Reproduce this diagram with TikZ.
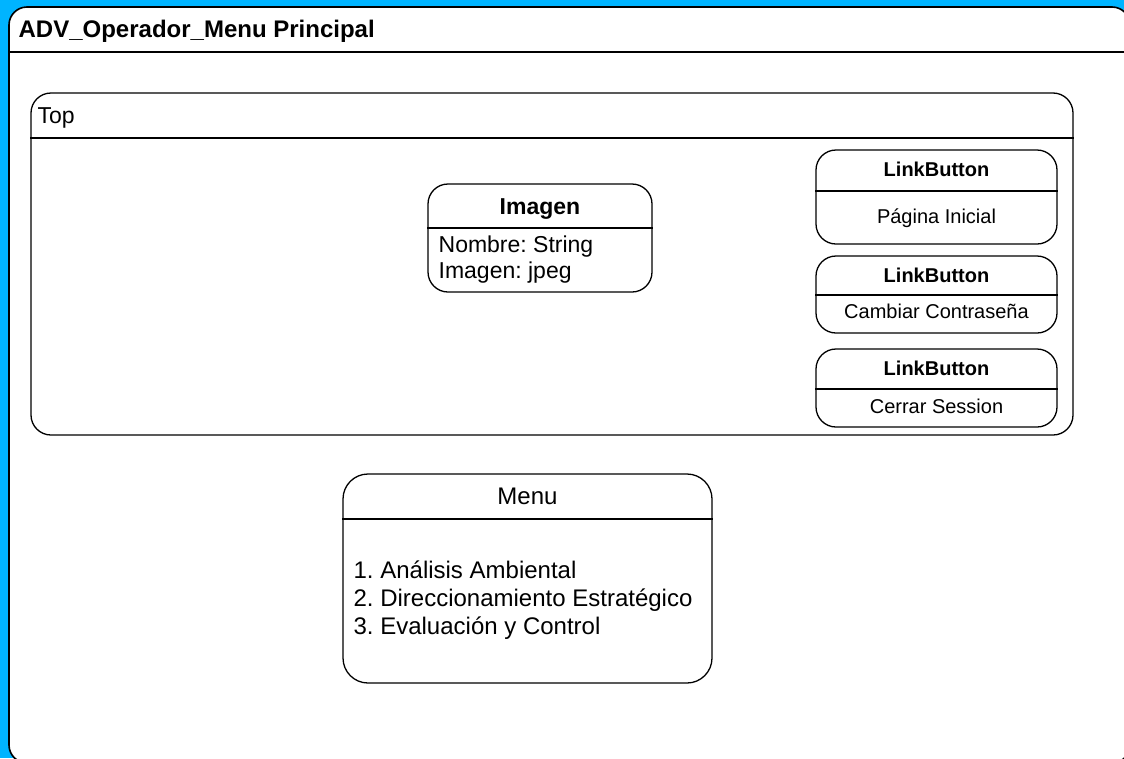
\documentclass[tikz,border=0pt]{standalone}
\usepackage{fontspec}
\setmainfont{Liberation Sans}
\usetikzlibrary{positioning}
\definecolor{bgblue}{RGB}{0,180,255}
\frenchspacing

\begin{document}
\begin{tikzpicture}[x=1pt,y=-1pt,font=\fontsize{23}{23}\selectfont,line width=1.3pt]
    \tikzset{b/.style={draw,rounded corners=20pt,fill=white,inner sep=0pt},
             t/.style={inner sep=0pt,anchor=base west},
             hd/.style={inner sep=0pt,anchor=base,font=\fontsize{23}{23}\selectfont\bfseries},
             lbt/.style={inner sep=0pt,anchor=base,font=\fontsize{20}{20}\selectfont\bfseries},
             lbl/.style={inner sep=0pt,anchor=base,font=\fontsize{20}{20}\selectfont}}
    \path[use as bounding box,clip] (0,0) rectangle (1124,758);
    \fill[bgblue] (0,0) rectangle (1124,758);
    \node[b,rounded corners=18pt,line width=1.6pt,minimum width=1121pt,minimum height=756pt] (main) at (569.5,385) {};
    \node[t,font=\fontsize{24}{24}\selectfont\bfseries] (ttl) at (18,37) {ADV\_Operador\_Menu Principal};
    \node[b,minimum width=1042pt,minimum height=342pt] (top) at (552,264) {};
    \node[t] (toplbl) at (37,123.5) {Top};
    \node[b,minimum width=224pt,minimum height=108pt] (img) at (540,238) {};
    \node[hd] (imgt) at (540,214) {Imagen};
    \node[t] (a1) at (438,252) {Nombre: String};
    \node[t] (a2) at (438,278) {Imagen: jpeg};
    \node[b,minimum width=241pt,minimum height=94pt] (lb1) at (936.5,197) {};
    \node[lbt] (lb1t) at (936.5,176) {LinkButton};
    \node[lbl] (lb1l) at (936.5,223) {Página Inicial};
    \node[b,minimum width=241pt,minimum height=77pt] (lb2) at (936.5,294.5) {};
    \node[lbt] (lb2t) at (936.5,282) {LinkButton};
    \node[lbl] (lb2l) at (936.5,318.5) {Cambiar Contraseña};
    \node[b,minimum width=241pt,minimum height=78pt] (lb3) at (936.5,388) {};
    \node[lbt] (lb3t) at (936.5,375) {LinkButton};
    \node[lbl] (lb3l) at (936.5,413) {Cerrar Session};
    \node[b,rounded corners=25pt,minimum width=369pt,minimum height=209pt] (menu) at (527.5,578.5) {};
    \node[anchor=base,inner sep=0pt,font=\fontsize{24}{24}\selectfont] (menut) at (527.5,504.5) {Menu};
    \foreach \t [count=\i] in {Análisis Ambiental,Direccionamiento Estratégico,Evaluación y Control}
        \node[t,font=\fontsize{24}{24}\selectfont] (m\i) at (353,550+28*\i) {\i. \t};
    \draw[line width=1.6pt] (main.west |- 0,52) -- (main.east |- 0,52);
    \foreach \n/\y in {top/138,img/228,lb1/191,lb2/295,lb3/389,menu/519}
        \draw (\n.west |- 0,\y) -- (\n.east |- 0,\y);
\end{tikzpicture}
\end{document}
